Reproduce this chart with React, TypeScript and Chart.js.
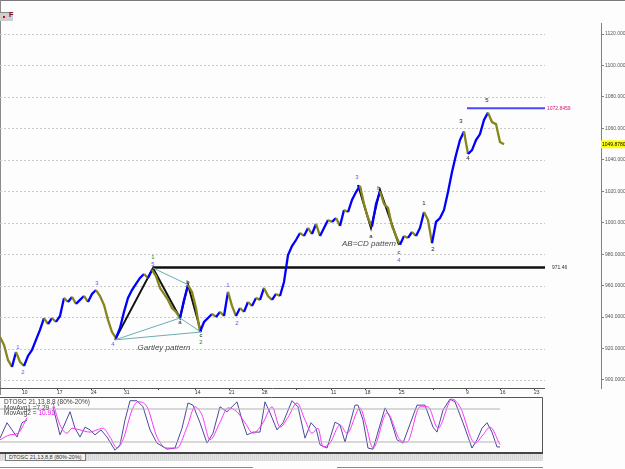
import React, { useEffect, useRef } from "react";
import { Chart, registerables } from "chart.js";
Chart.register(...registerables);

const FONT = '"Liberation Sans", Arial, sans-serif';

// Price closes, one per bar (bar index = time)
const prices: number[] = [
  927.4, 922.3, 912.7, 908.3, 917.8, 911.5, 908.9, 915.3, 919.1, 925.5,
  931.8, 939.4, 935.6, 939.4, 936.9, 940.7, 952.2, 949.6, 952.8, 948.4,
  950.9, 953.4, 949.6, 954.7, 957.2, 953.4, 947.7, 938.2, 930.5, 926.7,
  933.1, 943.3, 952.2, 957.2, 961.1, 964.9, 967.4, 964.9, 970.0, 966.1,
  958.5, 954.7, 950.9, 945.8, 943.3, 939.4, 950.9, 960.4, 956.0, 945.8,
  930.5, 936.9, 939.4, 942.0, 940.1, 943.3, 940.7, 956.0, 947.1, 940.7,
  945.8, 943.3, 949.6, 947.1, 952.2, 950.9, 958.5, 953.4, 950.9, 954.7,
  953.4, 962.3, 979.5, 985.2, 989.0, 993.5, 991.6, 996.7, 992.8, 999.2,
  991.6, 996.7, 1001.7, 1000.5, 1003.0, 998.0, 1008.1, 1006.8, 1014.5, 1019.5,
  1023.5, 1011.9, 1003.0, 997.5, 1011.9, 1020.0, 1011.9, 1009.4, 998.0, 991.6,
  986.0, 991.6, 990.3, 994.1, 991.6, 996.7, 1006.8, 1001.7, 987.0, 1000.5,
  1003.0, 1008.1, 1019.5, 1032.3, 1043.1, 1052.6, 1058.0, 1043.7, 1046.2, 1052.6,
  1056.4, 1065.3, 1070.0, 1064.0, 1062.7, 1051.3, 1049.9,
];

// Weekly date ticks (bar position, label); month starts have no label
const weekTickBars = [5.5, 14.25, 22.75, 31, 39.5, 48.75, 57.25, 65.5, 74, 82.75, 91.25, 99.75, 108.25, 116.5, 125, 133.5];
const weekTickLabels = ["10", "17", "24", "31", "", "14", "21", "28", "", "11", "18", "25", "", "9", "16", "23"];
const priceTicks = [900, 920, 940, 960, 980, 1000, 1020, 1040, 1060, 1080, 1100, 1120];

const supportLevel = 971.46;
const supportStartBar = 38.25;
const targetLevel = 1072.8459;
const targetStartBar = 116.75;
const levelEndBar = 136.25;
const currentPrice = 1049.878;

const gartleyPath: [number, number][] = [[28.75, 925.5], [38.25, 971.2], [45, 939.4], [47, 960.6], [50.25, 930.5]];
const gartleyGuides: [number, number][][] = [
  [[28.75, 925.5], [45, 939.4]],
  [[45, 939.4], [50.25, 930.5]],
  [[28.75, 925.5], [50.25, 930.5]],
  [[38.25, 971.2], [47, 960.6]],
];
const abcdPath: [number, number][] = [[89.5, 1024.0], [92.75, 996.7], [95, 1020.8], [99.75, 985.9]];

// wave labels: text, bar, price, kind (b = blue, g = green, k = black)
const waveLabels: [string, number, number, string][] = [
  ["1", 4.5, 921.0, "b"], ["2", 5.75, 905.1, "b"], ["3", 24.25, 961.7, "b"], ["4", 28.25, 922.9, "b"],
  ["1", 38.25, 978.2, "g"], ["5", 38.25, 973.8, "b"], ["b", 47, 962.3, "k"], ["a", 45, 936.9, "k"],
  ["c", 50.25, 928.6, "k"], ["2", 50.25, 924.2, "g"], ["1", 57, 960.4, "b"], ["2", 59.25, 936.3, "b"],
  ["3", 89.25, 1029.1, "b"], ["a", 92.75, 991.6, "k"], ["b", 94.75, 1022.1, "k"], ["c", 99.75, 981.4, "k"],
  ["4", 99.75, 976.3, "b"], ["1", 106, 1012.5, "k"], ["2", 108.25, 983.3, "k"], ["3", 115.25, 1064.7, "k"],
  ["4", 117, 1041.2, "k"], ["5", 121.75, 1078.0, "k"],
];
const patternTexts: [string, number, number][] = [
  ["Gartley pattern", 41.0, 920.4],
  ["AB=CD pattern", 92.25, 986.8],
];

// Oscillator (bar, value); null = hidden
const oscMain: [number, number | null][] = [
  [0, 27], [1.75, 55], [3, 42], [4.25, 29], [5.5, 55], [6.75, 60], [10, null], [13.25, 84],
  [15, 33], [17.5, 75], [18.75, 45], [20, 29], [21.25, 47], [22.5, 42], [23.75, 33], [25.25, 42],
  [26.75, 29], [28.75, 5], [30, 15], [31.25, 60], [32.5, 95], [34.25, 95], [35.75, 84], [37.5, 42],
  [39.25, 18], [41.75, 7], [43.75, 9], [45.5, 45], [47, 91], [48.25, 87], [50, 55], [51.75, 18],
  [53.25, 36], [55, 84], [56.75, 75], [59.25, 93], [60.5, 60], [61.75, 33], [63.25, 38], [65, 38],
  [66.25, 93], [67.5, 73], [69.25, 42], [70.75, 55], [73, 95], [74.5, 84], [76.25, 27], [77.75, 55],
  [79, 45], [80, 15], [81.75, 9], [83.75, 56], [85, 51], [86.25, 20], [88.75, 87], [89.5, 87],
  [90.75, 60], [92, 9], [93.25, 7], [96.25, 82], [97.5, 65], [99.25, 24], [100.75, 18], [104.25, 87],
  [106.25, 87], [108.25, 47], [109.25, 38], [110.75, 78], [112.5, 98], [113.75, 93], [115.75, 55], [118, 9],
  [119.25, 24], [120.5, 45], [121.75, 55], [123, 38], [124.25, 11], [125, 11],
];
const oscSignal: [number, number | null][] = [
  [0, 24], [2.5, 33], [4.5, 36], [6.75, 64], [10, null], [13.25, 91], [15, 51], [16.75, 36],
  [18, 45], [20, 42], [22.5, 38], [24.25, 42], [25.75, 45], [27.5, 29], [29.25, 9], [30.75, 24],
  [33, 78], [34.5, 93], [36.75, 84], [39.25, 29], [41.75, 9], [44.25, 9], [46.75, 47], [48.75, 84],
  [50.5, 69], [52.5, 24], [55, 56], [57, 82], [59.25, 75], [61.25, 55], [63.25, 36], [65.75, 55],
  [68, 84], [70, 47], [72, 65], [74.25, 91], [76.25, 60], [78, 36], [79.5, 45], [80.75, 11],
  [82.5, 18], [85, 51], [86.75, 36], [90, 82], [91.5, 51], [93.25, 9], [96.75, 73], [100, 24],
  [101.75, 20], [105, 84], [107, 84], [109.5, 45], [113, 98], [115, 84], [118.75, 18], [120.75, 33],
  [122.5, 47], [125, 15],
];
const oscLevels = [80, 20];
const oscEndBar = 125;
const movAvg1 = "7.29";
const movAvg2 = "10.91";

const labelColor: Record<string, string> = { b: "#5a5aff", g: "#1a8a1a", k: "#222222" };

const pts = (arr: [number, number | null][]) => arr.map(([x, y]) => ({ x, y }));

function MainChart() {
  const ref = useRef<HTMLCanvasElement>(null);
  useEffect(() => {
    const decor = {
      id: "decor",
      beforeDatasetsDraw(chart: any) {
        const { ctx, scales, chartArea } = chart;
        const x = scales.x, y = scales.y;
        const xEnd = x.getPixelForValue(levelEndBar);
        ctx.save();
        ctx.strokeStyle = "#c8c8c8";
        ctx.lineWidth = 1;
        ctx.setLineDash([2, 2]);
        priceTicks.forEach((v) => {
          const py = Math.round(y.getPixelForValue(v)) + 0.5;
          ctx.beginPath();
          ctx.moveTo(0, py);
          ctx.lineTo(xEnd, py);
          ctx.stroke();
        });
        ctx.setLineDash([]);
        ctx.strokeStyle = "#555";
        ctx.beginPath();
        ctx.moveTo(0, chartArea.bottom + 0.5);
        ctx.lineTo(xEnd, chartArea.bottom + 0.5);
        ctx.stroke();
        ctx.restore();
      },
      afterDatasetsDraw(chart: any) {
        const { ctx, scales } = chart;
        const x = scales.x, y = scales.y;
        ctx.save();
        ctx.textAlign = "center";
        ctx.textBaseline = "middle";
        ctx.font = `6px ${FONT}`;
        waveLabels.forEach(([t, b, p, k]) => {
          ctx.fillStyle = labelColor[k];
          ctx.fillText(t, x.getPixelForValue(b), y.getPixelForValue(p));
        });
        ctx.font = `italic 8px ${FONT}`;
        ctx.fillStyle = "#4a4a4a";
        patternTexts.forEach(([t, b, p]) => ctx.fillText(t, x.getPixelForValue(b), y.getPixelForValue(p)));
        ctx.textAlign = "left";
        ctx.font = `5px ${FONT}`;
        ctx.fillStyle = "#333";
        ctx.fillText(supportLevel.toFixed(2), x.getPixelForValue(levelEndBar + 1.75), y.getPixelForValue(supportLevel));
        ctx.fillStyle = "#e0107a";
        ctx.fillText(targetLevel.toFixed(4), x.getPixelForValue(levelEndBar + 0.5), y.getPixelForValue(targetLevel));
        ctx.restore();
      },
      afterDraw(chart: any) {
        const { ctx, scales, chartArea } = chart;
        const y = scales.y;
        const py = y.getPixelForValue(currentPrice);
        ctx.save();
        ctx.fillStyle = "#ffff00";
        ctx.fillRect(chartArea.right, py - 4, 24, 8);
        ctx.fillStyle = "#000";
        ctx.font = `5px ${FONT}`;
        ctx.textBaseline = "middle";
        ctx.textAlign = "left";
        ctx.fillText(currentPrice.toFixed(4), chartArea.right + 1, py);
        ctx.restore();
      },
    };
    const line = (data: any[], color: string, width: number) => ({
      data, borderColor: color, borderWidth: width, pointRadius: 0, tension: 0, fill: false,
    });
    const chart = new Chart(ref.current!, {
      type: "line",
      data: {
        datasets: [
          ...gartleyGuides.map((g) => line(g.map(([x, y]) => ({ x, y })), "#6aaeb0", 1)),
          {
            data: prices.map((p, i) => ({ x: i, y: p })),
            borderColor: "#0000ff",
            borderWidth: 2.3,
            pointRadius: 0,
            tension: 0,
            borderJoinStyle: "miter",
            segment: {
              borderColor: (c: any) => (c.p1.parsed.y >= c.p0.parsed.y ? "#0000ff" : "#86861e"),
            },
          } as any,
          line(gartleyPath.map(([x, y]) => ({ x, y })), "#111", 2),
          line(abcdPath.map(([x, y]) => ({ x, y })), "#111", 2),
          line([{ x: supportStartBar, y: supportLevel }, { x: levelEndBar, y: supportLevel }], "#111", 2.5),
          line([{ x: targetStartBar, y: targetLevel }, { x: levelEndBar, y: targetLevel }], "#4848ff", 2),
        ],
      },
      options: {
        animation: false,
        responsive: false,
        devicePixelRatio: 1,
        layout: { padding: { top: 23, left: 0, right: 0, bottom: 0 } },
        plugins: { legend: { display: false }, tooltip: { enabled: false } },
        scales: {
          x: {
            type: "linear",
            min: 0,
            max: 150.25,
            afterBuildTicks: (s: any) => { s.ticks = weekTickBars.map((v) => ({ value: v })); },
            afterFit: (s: any) => { s.height = 12; },
            ticks: {
              autoSkip: false,
              maxRotation: 0,
              padding: 0,
              align: "start",
              color: "#333",
              font: { size: 5, family: FONT },
              callback: (v: any) => weekTickLabels[weekTickBars.indexOf(Number(v))] ?? "",
            },
            grid: { drawOnChartArea: false, tickLength: 2, color: "#444" },
            border: { display: false },
          },
          y: {
            position: "right",
            min: 894.9,
            max: 1127,
            afterBuildTicks: (s: any) => { s.ticks = priceTicks.map((v) => ({ value: v })); },
            afterFit: (s: any) => { s.width = 24; },
            ticks: {
              padding: 1,
              color: "#555",
              font: { size: 5, family: FONT },
              callback: (v: any) => Number(v).toFixed(4),
            },
            grid: { drawOnChartArea: false, tickLength: 3, color: "#808080" },
            border: { display: true, color: "#808080" },
          },
        },
      } as any,
      plugins: [decor],
    });
    return () => chart.destroy();
  }, []);
  return <canvas ref={ref} width={625} height={400} style={{ position: "absolute", left: 0, top: 0, width: 625, height: 400 }} />;
}

function OscChart() {
  const ref = useRef<HTMLCanvasElement>(null);
  useEffect(() => {
    const decor = {
      id: "oscDecor",
      afterDraw(chart: any) {
        const { ctx, width, height } = chart;
        ctx.save();
        ctx.strokeStyle = "#555";
        ctx.lineWidth = 1;
        ctx.beginPath();
        ctx.moveTo(0, 0.5);
        ctx.lineTo(width - 0.5, 0.5);
        ctx.lineTo(width - 0.5, height);
        ctx.stroke();
        ctx.strokeStyle = "#444";
        ctx.lineWidth = 2;
        ctx.beginPath();
        ctx.moveTo(0, height - 1);
        ctx.lineTo(width, height - 1);
        ctx.stroke();
        ctx.font = `6.5px ${FONT}`;
        ctx.textBaseline = "middle";
        ctx.textAlign = "left";
        ctx.fillStyle = "#444";
        ctx.fillText("DTOSC 21,13,8,8 (80%-20%)", 4, 5);
        ctx.fillText(`MovAvg1 =${movAvg1}`, 4, 11);
        const lbl = "MovAvg2 = ";
        ctx.fillText(lbl, 4, 16.5);
        ctx.fillStyle = "#ff00ff";
        ctx.fillText(movAvg2, 4 + ctx.measureText(lbl).width, 16.5);
        ctx.restore();
      },
    };
    const chart = new Chart(ref.current!, {
      type: "line",
      data: {
        datasets: [
          ...oscLevels.map((lv) => ({
            data: [{ x: 0, y: lv }, { x: oscEndBar, y: lv }],
            borderColor: "#b4b4b4", borderWidth: 1, pointRadius: 0,
          })),
          { data: pts(oscSignal), borderColor: "#ff33ff", borderWidth: 1, pointRadius: 0, cubicInterpolationMode: "monotone", spanGaps: false },
          { data: pts(oscMain), borderColor: "#4a4a9a", borderWidth: 1, pointRadius: 0, tension: 0, spanGaps: false },
        ],
      },
      options: {
        animation: false,
        responsive: false,
        devicePixelRatio: 1,
        layout: { padding: { top: 0, left: 0, right: 0, bottom: 1 } },
        plugins: { legend: { display: false }, tooltip: { enabled: false } },
        scales: {
          x: { type: "linear", min: 0, max: 135.75, display: false },
          y: { min: 0, max: 101.8, display: false },
        },
      } as any,
      plugins: [decor],
    });
    return () => chart.destroy();
  }, []);
  return <canvas ref={ref} width={543} height={57} style={{ position: "absolute", left: 0, top: 397, width: 543, height: 57 }} />;
}

export default function App() {
  return (
    <div style={{ position: "fixed", left: 0, top: 0, width: 625, height: 469, background: "#fdfdfd", overflow: "hidden", fontFamily: FONT }}>
      <div style={{ position: "absolute", left: 0, top: 0, width: 625, height: 1, background: "#7a7a7a" }} />
      <div style={{ position: "absolute", left: 0, top: 0, width: 1, height: 395, background: "#8a8a8a" }} />
      <div style={{ position: "absolute", left: 0, top: 12, width: 13, height: 9, background: "#cfcfcf", borderTop: "1px solid #8a8a8a", boxSizing: "border-box" }}>
        <div style={{ position: "absolute", left: 3, top: 3, width: 2, height: 2, background: "#e00000" }} />
        <div style={{ position: "absolute", left: 9, top: -2, fontSize: 7, fontWeight: "bold", color: "#7a1010" }}>F</div>
      </div>
      <MainChart />
      <OscChart />
      <div style={{ position: "absolute", left: 0, top: 454, width: 543, height: 7, background: "repeating-linear-gradient(90deg,#d6d6d6 0px,#d6d6d6 1px,#e4e4e4 1px,#e4e4e4 2px)" }} />
      <div style={{ position: "absolute", left: 5, top: 454, height: 7, padding: "0 3px", background: "#f2f2f2", border: "1px solid #7a7a7a", borderTop: "none", fontSize: 5.5, lineHeight: "7px", color: "#333", whiteSpace: "nowrap", boxSizing: "border-box" }}>
        DTOSC 21,13,8,8 (80%-20%)
      </div>
      <div style={{ position: "absolute", left: 0, top: 467, width: 253, height: 1, background: "#8a8a8a" }} />
      <div style={{ position: "absolute", left: 337, top: 467, width: 206, height: 1, background: "#8a8a8a" }} />
    </div>
  );
}
